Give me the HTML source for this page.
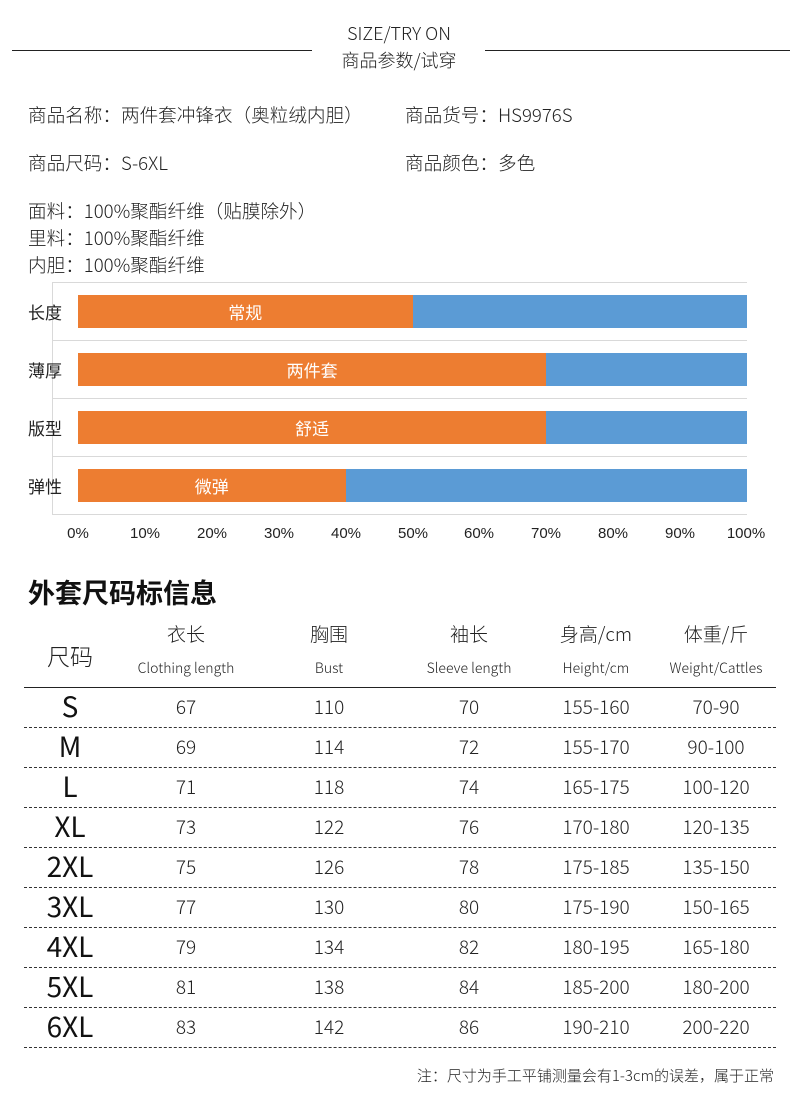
<!DOCTYPE html>
<html><head><meta charset="utf-8"><style>
*{margin:0;padding:0;box-sizing:border-box}
body{width:790px;height:1111px;background:#fff;position:relative;overflow:hidden;font-family:"Liberation Sans","Noto Sans CJK SC",sans-serif;color:#222}
.a{position:absolute;white-space:nowrap}
.c{transform:translateX(-50%)}
.t{font-family:"Noto Sans CJK SC",sans-serif;font-weight:300}
.bar{position:absolute;left:78px;width:669px;height:33px;background:#5b9bd5}
.bar div{height:100%;background:#ed7d31;color:#fff;font-size:17px;text-align:center;line-height:33px;font-family:"Noto Sans CJK SC",sans-serif}
.grid{position:absolute;left:52px;width:695px;height:1px;background:#d9d9d9}
.dash{position:absolute;left:24px;width:752px;border-top:1px dashed #333}
.row{position:absolute;left:0;width:790px;height:40px;font-size:19px;font-weight:300;font-family:"Noto Sans CJK SC",sans-serif}
.row span{position:absolute;top:5px;transform:translateX(-50%)}
.row span.s{font-size:28px;top:-2px;color:#111;font-weight:400}
.info{font-size:18.6px}
</style></head><body>
<div class="a" style="left:12px;top:50px;width:300px;height:1px;background:#222"></div>
<div class="a" style="left:485px;top:50px;width:305px;height:1px;background:#222"></div>
<div class="a c t" style="left:399px;top:20px;font-size:18px">SIZE/TRY ON</div>
<div class="a c t" style="left:399px;top:47px;font-size:18px">商品参数/试穿</div>
<div class="a t info" style="left:28px;top:101px">商品名称：两件套冲锋衣（奥粒绒内胆）</div>
<div class="a t info" style="left:405px;top:101px">商品货号：HS9976S</div>
<div class="a t info" style="left:28px;top:149px">商品尺码：S-6XL</div>
<div class="a t info" style="left:405px;top:149px">商品颜色：多色</div>
<div class="a t info" style="left:28px;top:197px">面料：100%聚酯纤维（贴膜除外）</div>
<div class="a t info" style="left:28px;top:224px">里料：100%聚酯纤维</div>
<div class="a t info" style="left:28px;top:251px">内胆：100%聚酯纤维</div>

<div class="grid" style="top:282px"></div>
<div class="grid" style="top:340px"></div>
<div class="grid" style="top:398px"></div>
<div class="grid" style="top:456px"></div>
<div class="grid" style="top:514px"></div>
<div class="a" style="left:52px;top:282px;width:1px;height:233px;background:#d9d9d9"></div>
<div class="a" style="left:28px;top:299px;font-size:17px;font-family:'Noto Sans CJK SC',sans-serif">长度</div>
<div class="a" style="left:28px;top:357px;font-size:17px;font-family:'Noto Sans CJK SC',sans-serif">薄厚</div>
<div class="a" style="left:28px;top:415px;font-size:17px;font-family:'Noto Sans CJK SC',sans-serif">版型</div>
<div class="a" style="left:28px;top:473px;font-size:17px;font-family:'Noto Sans CJK SC',sans-serif">弹性</div>
<div class="bar" style="top:295px"><div style="width:50%">常规</div></div>
<div class="bar" style="top:353px"><div style="width:70%">两件套</div></div>
<div class="bar" style="top:411px"><div style="width:70%">舒适</div></div>
<div class="bar" style="top:469px"><div style="width:40%">微弹</div></div>
<div class="a c" style="left:78px;top:525px;font-size:15px">0%</div>
<div class="a c" style="left:145px;top:525px;font-size:15px">10%</div>
<div class="a c" style="left:212px;top:525px;font-size:15px">20%</div>
<div class="a c" style="left:279px;top:525px;font-size:15px">30%</div>
<div class="a c" style="left:346px;top:525px;font-size:15px">40%</div>
<div class="a c" style="left:413px;top:525px;font-size:15px">50%</div>
<div class="a c" style="left:479px;top:525px;font-size:15px">60%</div>
<div class="a c" style="left:546px;top:525px;font-size:15px">70%</div>
<div class="a c" style="left:613px;top:525px;font-size:15px">80%</div>
<div class="a c" style="left:680px;top:525px;font-size:15px">90%</div>
<div class="a c" style="left:746px;top:525px;font-size:15px">100%</div>

<div class="a" style="left:28px;top:572px;font-size:27px;font-weight:bold;font-family:'Noto Sans CJK SC',sans-serif;color:#111">外套尺码标信息</div>
<div class="a c t" style="left:70px;top:638px;font-size:23px">尺码</div>
<div class="a c t" style="left:186px;top:620px;font-size:19px">衣长</div>
<div class="a c t" style="left:329px;top:620px;font-size:19px">胸围</div>
<div class="a c t" style="left:469px;top:620px;font-size:19px">袖长</div>
<div class="a c t" style="left:596px;top:620px;font-size:19px">身高/cm</div>
<div class="a c t" style="left:716px;top:620px;font-size:19px">体重/斤</div>
<div class="a c t" style="left:186px;top:658px;font-size:14px">Clothing length</div>
<div class="a c t" style="left:329px;top:658px;font-size:14px">Bust</div>
<div class="a c t" style="left:469px;top:658px;font-size:14px">Sleeve length</div>
<div class="a c t" style="left:596px;top:658px;font-size:14px">Height/cm</div>
<div class="a c t" style="left:716px;top:658px;font-size:14px">Weight/Cattles</div>
<div class="a" style="left:24px;top:687px;width:752px;height:1px;background:#222"></div>

<div class="row" style="top:688px"><span class="s" style="left:70px">S</span><span style="left:186px">67</span><span style="left:329px">110</span><span style="left:469px">70</span><span style="left:596px">155-160</span><span style="left:716px">70-90</span></div>
<div class="row" style="top:728px"><span class="s" style="left:70px">M</span><span style="left:186px">69</span><span style="left:329px">114</span><span style="left:469px">72</span><span style="left:596px">155-170</span><span style="left:716px">90-100</span></div>
<div class="row" style="top:768px"><span class="s" style="left:70px">L</span><span style="left:186px">71</span><span style="left:329px">118</span><span style="left:469px">74</span><span style="left:596px">165-175</span><span style="left:716px">100-120</span></div>
<div class="row" style="top:808px"><span class="s" style="left:70px">XL</span><span style="left:186px">73</span><span style="left:329px">122</span><span style="left:469px">76</span><span style="left:596px">170-180</span><span style="left:716px">120-135</span></div>
<div class="row" style="top:848px"><span class="s" style="left:70px">2XL</span><span style="left:186px">75</span><span style="left:329px">126</span><span style="left:469px">78</span><span style="left:596px">175-185</span><span style="left:716px">135-150</span></div>
<div class="row" style="top:888px"><span class="s" style="left:70px">3XL</span><span style="left:186px">77</span><span style="left:329px">130</span><span style="left:469px">80</span><span style="left:596px">175-190</span><span style="left:716px">150-165</span></div>
<div class="row" style="top:928px"><span class="s" style="left:70px">4XL</span><span style="left:186px">79</span><span style="left:329px">134</span><span style="left:469px">82</span><span style="left:596px">180-195</span><span style="left:716px">165-180</span></div>
<div class="row" style="top:968px"><span class="s" style="left:70px">5XL</span><span style="left:186px">81</span><span style="left:329px">138</span><span style="left:469px">84</span><span style="left:596px">185-200</span><span style="left:716px">180-200</span></div>
<div class="row" style="top:1008px"><span class="s" style="left:70px">6XL</span><span style="left:186px">83</span><span style="left:329px">142</span><span style="left:469px">86</span><span style="left:596px">190-210</span><span style="left:716px">200-220</span></div>
<div class="dash" style="top:727px"></div>
<div class="dash" style="top:767px"></div>
<div class="dash" style="top:807px"></div>
<div class="dash" style="top:847px"></div>
<div class="dash" style="top:887px"></div>
<div class="dash" style="top:927px"></div>
<div class="dash" style="top:967px"></div>
<div class="dash" style="top:1007px"></div>
<div class="dash" style="top:1047px"></div>
<div class="a t" style="right:16px;top:1065px;font-size:15px">注：尺寸为手工平铺测量会有1-3cm的误差，属于正常</div>
</body></html>
